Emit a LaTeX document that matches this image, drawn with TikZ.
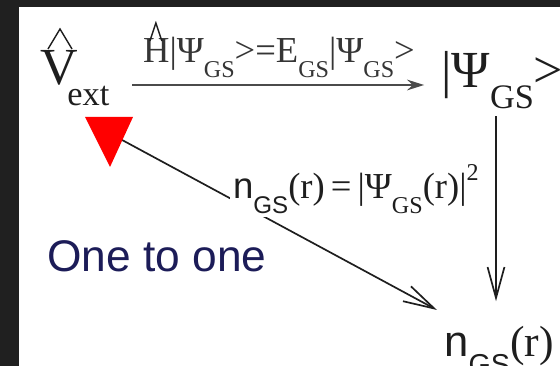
\documentclass[tikz,border=0pt]{standalone}
\usepackage{fontspec}
\setmainfont{Liberation Serif}
\setsansfont{Liberation Sans}
\usepackage{tikz}
\usetikzlibrary{arrows.meta, positioning, calc}

\definecolor{ink}{RGB}{30,30,30}
\definecolor{framecol}{RGB}{32,32,32}
\definecolor{arrgray}{RGB}{75,75,75}
\definecolor{navy}{RGB}{28,28,88}

\newcommand{\lowtxt}[1]{\raisebox{-0.4em}{\scalebox{0.66}{#1}}}

\begin{document}
\begin{tikzpicture}[
        x=0.025cm, y=-0.025cm,
        big/.style={font=\fontsize{37}{40}\selectfont, inner sep=0pt, text=ink},
        eqlabel/.style={font=\fontsize{26}{28}\selectfont, inner sep=0pt, text=ink!90},
        dens/.style={font=\fontsize{26}{28}\selectfont, inner sep=2pt, text=ink, fill=white},
        nsize/.style={font=\fontsize{31}{33}\selectfont, inner sep=0pt, text=ink},
        note/.style={font=\sffamily\fontsize{31.5}{33}\selectfont, inner sep=0pt, text=navy},
        hatline/.style={line width=1pt, draw=ink},
        toparrow/.style={-{Stealth[length=12pt, width=7.5pt]}, line width=1.9pt, draw=arrgray},
        barb/.style={-{Straight Barb[length=22pt, width=12pt]}, line width=1.2pt, draw=ink}
    ]
        % Cadru
        \useasboundingbox (0,0) rectangle (560,366);
        \clip (0,0) rectangle (560,366);
        \fill[framecol] (0,0) rectangle (560,366);
        \fill[white] (19,7) rectangle (560,366);

        % Noduri
        \node[big, anchor=base west] (vext) at (40,85) {V\kern-0.2em\lowtxt{ext}};
        \node[big, anchor=base west] (psi) at (441,88) {|Ψ\lowtxt{GS}>};
        \node[eqlabel, anchor=base] (hlab) at (279,63) {H|Ψ\lowtxt{GS}>=E\lowtxt{GS}|Ψ\lowtxt{GS}>};
        \node[nsize, anchor=base west] (nbot) at (444,357) {\textsf{n\lowtxt{GS}}(r)};
        \node[note, anchor=base west] (one) at (47,272) {One to one};
        \coordinate (tri) at (111,134);
        \coordinate (dtip) at (437,310);
        \coordinate (vx) at (496,0);

        % Caciuli
        \draw[hatline] ($(vext.base west)+(8,-36)$) -- ++(12,-20) -- ++(12,20);
        \draw[hatline] ($(hlab.base west)+(7,-22)$) -- ++(6,-18) -- ++(6,18);

        % Sageti
        \draw[toparrow, shorten <=16pt, shorten >=12pt] (vext.base east) -- (vext.base east -| psi.west);
        \draw[barb, shorten <=5pt, shorten >=18pt] (psi.south -| vx) -- (nbot.north -| vx);
        \draw[barb] (tri) -- (dtip);

        % Eticheta densitate
        \node[dens, anchor=base west] (nlab) at (230,199)
            {\textsf{n\lowtxt{GS}}(r)\,=\,|Ψ\lowtxt{GS}(r)|\raisebox{0.5em}{\scalebox{0.66}{2}}};

        % Triunghi
        \fill[red] (85,117) -- (133,117) -- (110,167) -- cycle;
    \end{tikzpicture}
\end{document}
